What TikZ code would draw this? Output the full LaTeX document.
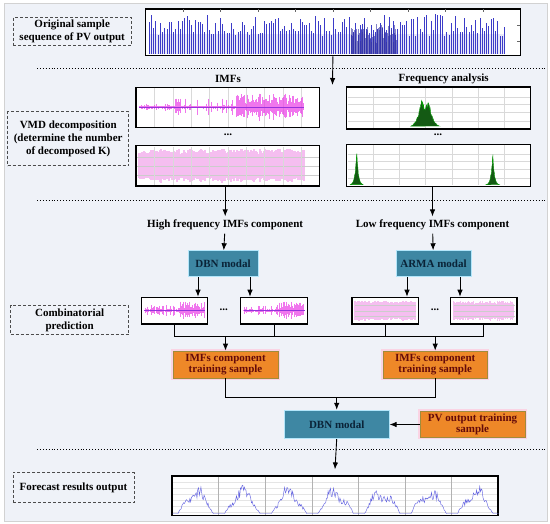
\documentclass[tikz,border=0pt]{standalone}
\usepackage{fontspec}
\setmainfont{Liberation Serif}
\usepackage{tikz}
\usetikzlibrary{arrows.meta}
\tikzset{>={Latex[length=7pt,width=5.5pt]}}
\definecolor{bgc}{RGB}{239,242,248}
\definecolor{tealc}{RGB}{62,135,163}
\definecolor{tealtxt}{RGB}{10,35,55}
\definecolor{orangec}{RGB}{238,136,40}
\definecolor{olivec}{RGB}{160,140,60}
\definecolor{glowc}{RGB}{250,212,228}
\definecolor{redtxt}{RGB}{100,10,10}
\definecolor{sigblue}{RGB}{60,60,200}
\definecolor{magc}{RGB}{235,60,230}
\definecolor{purc}{RGB}{150,50,220}
\definecolor{pinkband}{RGB}{245,190,240}
\definecolor{greenc}{RGB}{20,90,20}
\definecolor{fcblue}{RGB}{100,100,225}
\tikzset{
  every node/.append style={font=\fontsize{11}{13}\selectfont\bfseries},
  lbl/.style={draw=black!70, dash pattern=on 3pt off 2pt, line width=0.9pt, align=center, inner sep=0pt},
  plotbox/.style={draw=black, fill=white, line width=1.3pt, inner sep=0pt},
  modal/.style={fill=tealc, draw=cyan!30, line width=0.8pt, text=tealtxt, inner sep=0pt},
  trsample/.style={fill=orangec, draw=olivec, line width=0.8pt, text=redtxt, align=center, inner sep=0pt,
    preaction={draw=glowc, line width=4pt}},
  arr/.style={->, line width=0.9pt},
  conn/.style={line width=0.9pt},
  sep/.style={dotted, line width=0.9pt},
  spk/.style={line width=0.35pt},
  gridl/.style={gray!30, line width=0.3pt},
}

\begin{document}
\begin{tikzpicture}[x=1pt,y=-1pt]
\useasboundingbox (0,0) rectangle (550,524);
\filldraw[fill=bgc, draw=gray!35, line width=1pt] (4,3.5) rectangle (547,521.5);
\pgfmathsetseed{11}
% separators
\draw[sep] (37,68.3) -- (546,68.3);
\draw[sep] (37,200.7) -- (546,200.7);
\draw[sep] (37,449.3) -- (546,449.3);

% step labels
\node[lbl, minimum width=118pt, minimum height=28.5pt] (lorig) at (72.2,31.5) {Original sample\\sequence of PV output};
\node[lbl, minimum width=121pt, minimum height=54pt] (lvmd) at (68.2,138.7) {VMD decomposition\\(determine the number\\of decomposed K)};
\node[lbl, minimum width=118pt, minimum height=29.3pt] (lcomb) at (69.6,320.3) {Combinatorial\\prediction};
\node[lbl, minimum width=121pt, minimum height=30.4pt] (lfore) at (73.5,487.5) {Forecast results output};

% original sequence
\node[plotbox, minimum width=374.6pt, minimum height=46.7pt] (ptop) at (332.9,32.3) {};
\fill[sigblue!12] (149,54) rectangle (505,34);
\foreach \i in {0,...,160}{
  \pgfmathsetmacro\xx{149+2.22*\i}
  \pgfmathsetmacro\hh{18+22*rnd}
  \draw[spk, sigblue] (\xx,54) -- (\xx,{54-\hh});
}
\foreach \i in {0,...,60}{
  \pgfmathsetmacro\xx{351+0.75*\i}
  \pgfmathsetmacro\hh{10+20*rnd}
  \draw[spk, sigblue!80!black, opacity=0.6] (\xx,54) -- (\xx,{54-\hh});
}
\foreach \k in {1,...,9}{
  \draw[gridl, black!60] (145.6+37.5*\k,9) -- ++(0,3);
}
\draw[gridl, black!60] (520,25) -- ++(-3,0) (520,41) -- ++(-3,0);

% titles
\node (timf) at (228,79.3) {IMFs};
\node (tfreq) at (443.7,79.3) {Frequency analysis};
\coordinate (split) at (332.5,85);
\draw[arr] (ptop.south) -- (split);

% IMFs
\node[plotbox, minimum width=183.5pt, minimum height=40.4pt] (imfone) at (227.7,107.5) {};
\foreach \k in {1,...,9}{
  \draw[gridl] (136+18.35*\k,88) -- ++(0,39);
}
\foreach \i in {0,...,164}{
  \pgfmathsetmacro\xx{139+\i}
  \pgfmathsetmacro\aa{ifthenelse(\xx>235, 3+11*rnd, 1+8*pow(rnd,4))}
  \draw[spk, magc, opacity=0.7] (\xx,{107.5-\aa}) -- (\xx,{107.5+\aa*(0.6+0.4*rnd)});
}
\draw[purc, line width=0.8pt] (139,107.5) -- (304,107.5);
\node (dotsa) at (228,135) {...};
\node[plotbox, minimum width=183.5pt, minimum height=40.3pt] (imftwo) at (227.7,165.9) {};
\foreach \i in {0,...,165}{
  \pgfmathsetmacro\xx{139+\i}
  \pgfmathsetmacro\aa{12+5*rnd}
  \draw[pinkband, line width=1.1pt] (\xx,{166-\aa}) -- (\xx,{166+\aa*(0.85+0.15*rnd)});
}
\foreach \yy in {157,166,175}{
  \draw[gridl, gray!40] (137,\yy) -- (318.5,\yy);
}
\foreach \k in {1,...,9}{
  \draw[gridl] (136+18.35*\k,147) -- ++(0,38);
}

% frequency analysis
\node[plotbox, minimum width=184.2pt, minimum height=42pt] (frone) at (438.6,108) {};
\foreach \k in {1,...,6}{
  \draw[gridl] (346.5+26.3*\k,88) -- ++(0,40);
}
\foreach \yy in {96.7,104.3,112.3,120.7}{
  \draw[gridl] (347.5,\yy) -- (529.7,\yy);
}
\filldraw[fill=greenc, draw=green!60!black, line width=0.4pt]
  plot[domain=411:439, samples=70] (\x,{128 - (0.8+0.2*rnd)*(26*exp(-abs(\x-421.5)/4)+26*exp(-abs(\x-428.5)/4))}) -- cycle;
\node (dotsb) at (438,135) {...};
\node[plotbox, minimum width=184.2pt, minimum height=42pt] (frtwo) at (438.6,165.2) {};
\foreach \k in {1,...,6}{
  \draw[gridl] (346.5+26.3*\k,145) -- ++(0,40);
}
\foreach \yy in {153.7,161.3,169.3,177.7}{
  \draw[gridl] (347.5,\yy) -- (529.7,\yy);
}
\filldraw[fill=greenc, draw=green!60!black, line width=0.4pt]
  plot[domain=350:363.4, samples=40] (\x,{185.2 - (0.8+0.2*rnd)*36*exp(-abs(\x-356.7)/1.6)}) -- cycle;
\filldraw[fill=greenc, draw=green!60!black, line width=0.4pt]
  plot[domain=486:499.4, samples=40] (\x,{185.2 - (0.8+0.2*rnd)*34*exp(-abs(\x-492.7)/1.6)}) -- cycle;

% components
\node (hf) at (225.2,225) {High frequency IMFs component};
\node (lf) at (432.5,225) {Low frequency IMFs component};
\draw[arr] (hf.north |- imftwo.south) -- (hf.north);
\draw[arr] (lf.north |- frtwo.south) -- (lf.north);
\node[modal, minimum width=70pt, minimum height=26pt] (dbn) at (223,263.7) {DBN modal};
\node[modal, minimum width=75pt, minimum height=26pt] (arma) at (433.5,263.7) {ARMA modal};
\draw[arr] (hf) -- (dbn);
\draw[arr] (lf) -- (arma);

% predicted components
\node[plotbox, minimum width=66.4pt, minimum height=26.7pt] (pone) at (174.6,310.7) {};
\node[plotbox, minimum width=66.4pt, minimum height=26.7pt] (ptwo) at (274,310.7) {};
\node[plotbox, minimum width=66.4pt, minimum height=26.7pt] (pthree) at (385.3,310.7) {};
\node[plotbox, minimum width=66.4pt, minimum height=26.7pt] (pfour) at (483.7,310.7) {};
\foreach \xa in {144,243.5}{
  \foreach \i in {0,...,60}{
    \pgfmathsetmacro\xx{\xa+\i}
    \pgfmathsetmacro\aa{ifthenelse(\i>33, 2+7*rnd, 1+5*pow(rnd,4))}
    \draw[spk, magc, opacity=0.7] (\xx,{310.7-\aa}) -- (\xx,{310.7+\aa*(0.6+0.4*rnd)});
  }
  \draw[purc, line width=0.7pt] (\xa,310.7) -- ++(61,0);
}
\foreach \xa in {355,453.5}{
  \foreach \i in {0,...,60}{
    \pgfmathsetmacro\xx{\xa+\i}
    \pgfmathsetmacro\aa{7+3*rnd}
    \draw[pinkband, line width=1.1pt] (\xx,{310.7-\aa}) -- (\xx,{310.7+\aa});
  }
  \foreach \yy in {305,310.7,316.4}{
    \draw[gridl, gray!40] (\xa,\yy) -- ++(61,0);
  }
}
\node (dotsc) at (223.8,310) {...};
\node (dotsd) at (435,310) {...};
\draw[arr] ([xshift=-25pt]dbn.south) -- ([xshift=-25pt]dbn.south |- pone.north);
\draw[arr] ([xshift=27pt]dbn.south) -- ([xshift=27pt]dbn.south |- ptwo.north);
\draw[arr] ([xshift=-26.5pt]arma.south) -- ([xshift=-26.5pt]arma.south |- pthree.north);
\draw[arr] ([xshift=26.5pt]arma.south) -- ([xshift=26.5pt]arma.south |- pfour.north);

% training samples
\node[trsample, minimum width=105pt, minimum height=27pt] (trone) at (225.5,364.5) {IMFs component\\[-2pt]training sample};
\node[trsample, minimum width=104.5pt, minimum height=27pt] (trtwo) at (435.2,364.5) {IMFs component\\[-2pt]training sample};
\coordinate (bus) at (0,336.7);
\draw[conn] (pone.south) |- (pfour.south |- bus) -- (pfour.south);
\draw[conn] (ptwo.south) -- (ptwo.south |- bus);
\draw[conn] (pthree.south) -- (pthree.south |- bus);
\draw[arr] (trone.north |- bus) -- (trone.north);
\draw[arr] (trtwo.north |- bus) -- (trtwo.north);

% final model
\node[modal, minimum width=105pt, minimum height=28.6pt] (dbnb) at (336.7,424.5) {DBN modal};
\node[trsample, minimum width=105pt, minimum height=26pt] (pv) at (472.6,424.5) {PV output training\\[-2pt]sample};
\coordinate (mrg) at (336.7,397.7);
\draw[conn] (trone.south) |- (mrg) -| (trtwo.south);
\draw[arr] (mrg) -- (dbnb.north);
\draw[arr] (pv.west) -- (dbnb.east);

% forecast
\node[plotbox, minimum width=326pt, minimum height=39.7pt] (fc) at (335,495.9) {};
\foreach \yy in {482,488,494,500,506,512}{
  \draw[gridl, gray!20] (173,\yy) -- (497,\yy);
}
\foreach \k in {1,...,6}{
  \draw[gridl, gray!60] (171.9+46.6*\k,477) -- ++(0,38);
}
\foreach \d in {0,...,6}{
  \pgfmathsetmacro\xo{172.5+46.6*\d}
  \draw[fcblue, line width=0.45pt] plot[variable=\t, domain=0:1, samples=60]
    ({\xo+46.6*\t},{513.5 - 30*max(0,sin(180*(\t-0.12)/0.76))*(0.6+0.4*rnd)*(0.8+0.2*sin(720*\t+60*\d))});
}
\draw[arr] (dbnb.south) -- ([yshift=6pt]fc.north);
\end{tikzpicture}
\end{document}
